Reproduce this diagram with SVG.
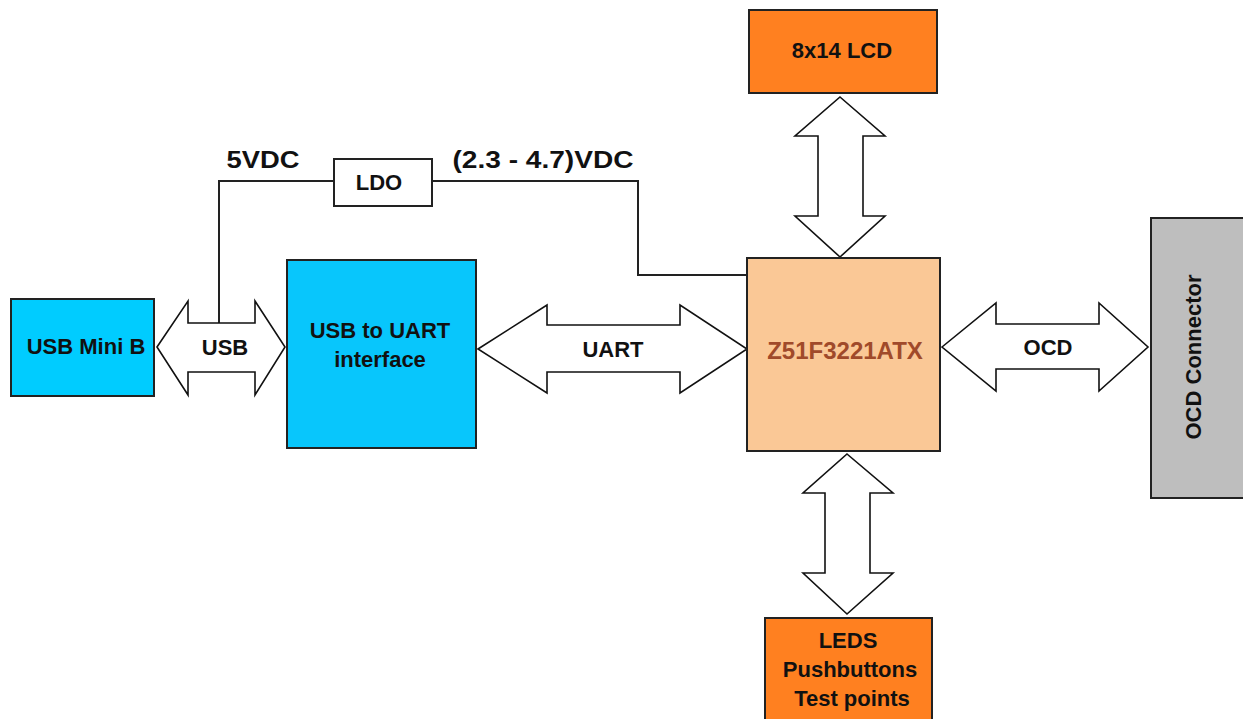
<svg xmlns="http://www.w3.org/2000/svg" width="1243" height="719" viewBox="0 0 1243 719">
<style>
.box{stroke:#222;stroke-width:2}
.t{font-family:"Liberation Sans",Arial,sans-serif;font-weight:bold;font-size:22px;fill:#111;text-anchor:middle}
.arr{fill:#fff;stroke:#111;stroke-width:1.6;stroke-linejoin:miter}
.wire{fill:none;stroke:#222;stroke-width:2}
</style>
<rect width="1243" height="719" fill="#fff"/>
<g id="connectors">
<path class="wire" d="M219 323 V181 H334 M432 181 H638 V275 H748"/>
<polygon class="arr" points="157,347 188,301 188,323 255,323 255,301 285,347 255,395 255,372 188,372 188,395"/>
<polygon class="arr" points="478,349 547,305 547,325 680,325 680,305 747,349 680,393 680,372 547,372 547,393"/>
<polygon class="arr" points="942,347 996,303 996,324 1099,324 1099,303 1148,347 1099,391 1099,369 996,369 996,391"/>
<polygon class="arr" points="840,97 885,136 863,136 863,216 885,216 840,257 795,216 818,216 818,136 795,136"/>
<polygon class="arr" points="847,454 893,493 870,493 870,573 893,573 847,614 803,573 825,573 825,493 803,493"/>
<text class="t" x="225" y="355">USB</text>
<text class="t" x="613" y="357">UART</text>
<text class="t" x="1048" y="355">OCD</text>
<text class="t" x="263" y="168" style="font-size:24px" textLength="73" lengthAdjust="spacingAndGlyphs">5VDC</text>
<text class="t" x="543" y="168" style="font-size:24px" textLength="181" lengthAdjust="spacingAndGlyphs">(2.3 - 4.7)VDC</text>
</g>
<g id="ldo">
<rect class="box" x="334" y="159" width="98" height="47" fill="#fff"/>
<text class="t" x="379" y="190">LDO</text>
</g>
<g id="usb-mini-b">
<rect class="box" x="11" y="299" width="143" height="97" fill="#00CCFF"/>
<text class="t" x="86" y="354">USB Mini B</text>
</g>
<g id="usb-uart">
<rect class="box" x="287" y="260" width="189" height="188" fill="#08C6FC"/>
<text class="t" x="380" y="338">USB to UART</text>
<text class="t" x="380" y="367">interface</text>
</g>
<g id="mcu">
<rect class="box" x="747" y="258" width="193" height="193" fill="#FAC896"/>
<text class="t" x="845" y="359" style="font-size:24px;fill:#A04A2A">Z51F3221ATX</text>
</g>
<g id="lcd">
<rect class="box" x="749" y="10" width="188" height="83" fill="#FF8020"/>
<text class="t" x="842" y="58">8x14 LCD</text>
</g>
<g id="ocd-connector">
<rect class="box" x="1151" y="218" width="100" height="280" fill="#BEBEBE"/>
<text class="t" transform="translate(1201,357) rotate(-90)">OCD Connector</text>
</g>
<g id="leds">
<rect class="box" x="765" y="618" width="167" height="110" fill="#FF8020"/>
<text class="t" x="848" y="648">LEDS</text>
<text class="t" x="850" y="677">Pushbuttons</text>
<text class="t" x="852" y="706">Test points</text>
</g>
</svg>
